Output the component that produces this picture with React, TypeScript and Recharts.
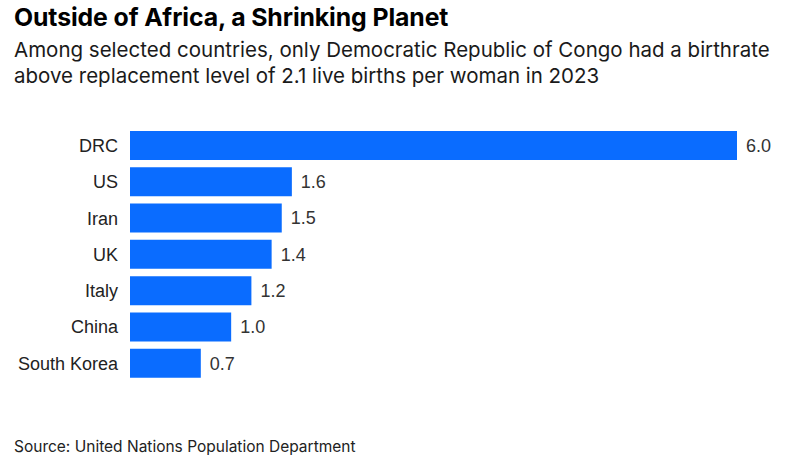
import React from "react";
import { BarChart, Bar, XAxis, YAxis, LabelList } from "recharts";

const countries = ["DRC", "US", "Iran", "UK", "Italy", "China", "South Korea"];
const birthrates = [6.0, 1.6, 1.5, 1.4, 1.2, 1.0, 0.7];

const data = countries.map((c, i) => ({ country: c, value: birthrates[i] }));

const FONT = "'Liberation Sans', Arial, Helvetica, sans-serif";
const HEAD = "Inter, 'Liberation Sans', Arial, sans-serif";

export default function App() {
  return (
    <div
      style={{
        position: "absolute",
        left: 0,
        top: 0,
        width: 800,
        height: 475,
        background: "#fff",
        fontFamily: FONT,
        overflow: "hidden",
      }}
    >
      <div
        style={{
          position: "absolute",
          left: 14,
          top: 2,
          fontSize: 24.8,
          fontWeight: 700,
          color: "#000",
          fontFamily: HEAD,
          letterSpacing: -0.1,
          whiteSpace: "nowrap",
        }}
      >
        Outside of Africa, a Shrinking Planet
      </div>
      <div
        style={{
          position: "absolute",
          left: 14,
          top: 37,
          width: 800,
          fontSize: 20.5,
          lineHeight: "26px",
          color: "#1a1a1a",
          fontFamily: HEAD,
          whiteSpace: "nowrap",
        }}
      >
        Among selected countries, only Democratic Republic of Congo had a birthrate
        <br />
        above replacement level of 2.1 live births per woman in 2023
      </div>
      <div style={{ position: "absolute", left: 0, top: 0 }}>
        <BarChart
          width={800}
          height={475}
          data={data}
          layout="vertical"
          margin={{ top: 127.4, bottom: 93.6, left: 0, right: 63 }}
          barCategoryGap={3.6}
        >
          <XAxis type="number" domain={[0, 6]} hide />
          <YAxis
            type="category"
            dataKey="country"
            width={130}
            tickLine={false}
            axisLine={false}
            tickSize={0}
            tickMargin={12}
            tick={{ fontSize: 18, fill: "#222", fontFamily: FONT }}
            interval={0}
          />
          <Bar dataKey="value" fill="#0a6cff" isAnimationActive={false}>
            <LabelList
              dataKey="value"
              position="right"
              offset={9}
              formatter={(v: number) => v.toFixed(1)}
              style={{ fontSize: 18, fill: "#333", fontFamily: FONT }}
            />
          </Bar>
        </BarChart>
      </div>
      <div
        style={{
          position: "absolute",
          left: 14,
          top: 437,
          fontSize: 15.5,
          color: "#222",
          fontFamily: HEAD,
          whiteSpace: "nowrap",
        }}
      >
        Source: United Nations Population Department
      </div>
    </div>
  );
}
